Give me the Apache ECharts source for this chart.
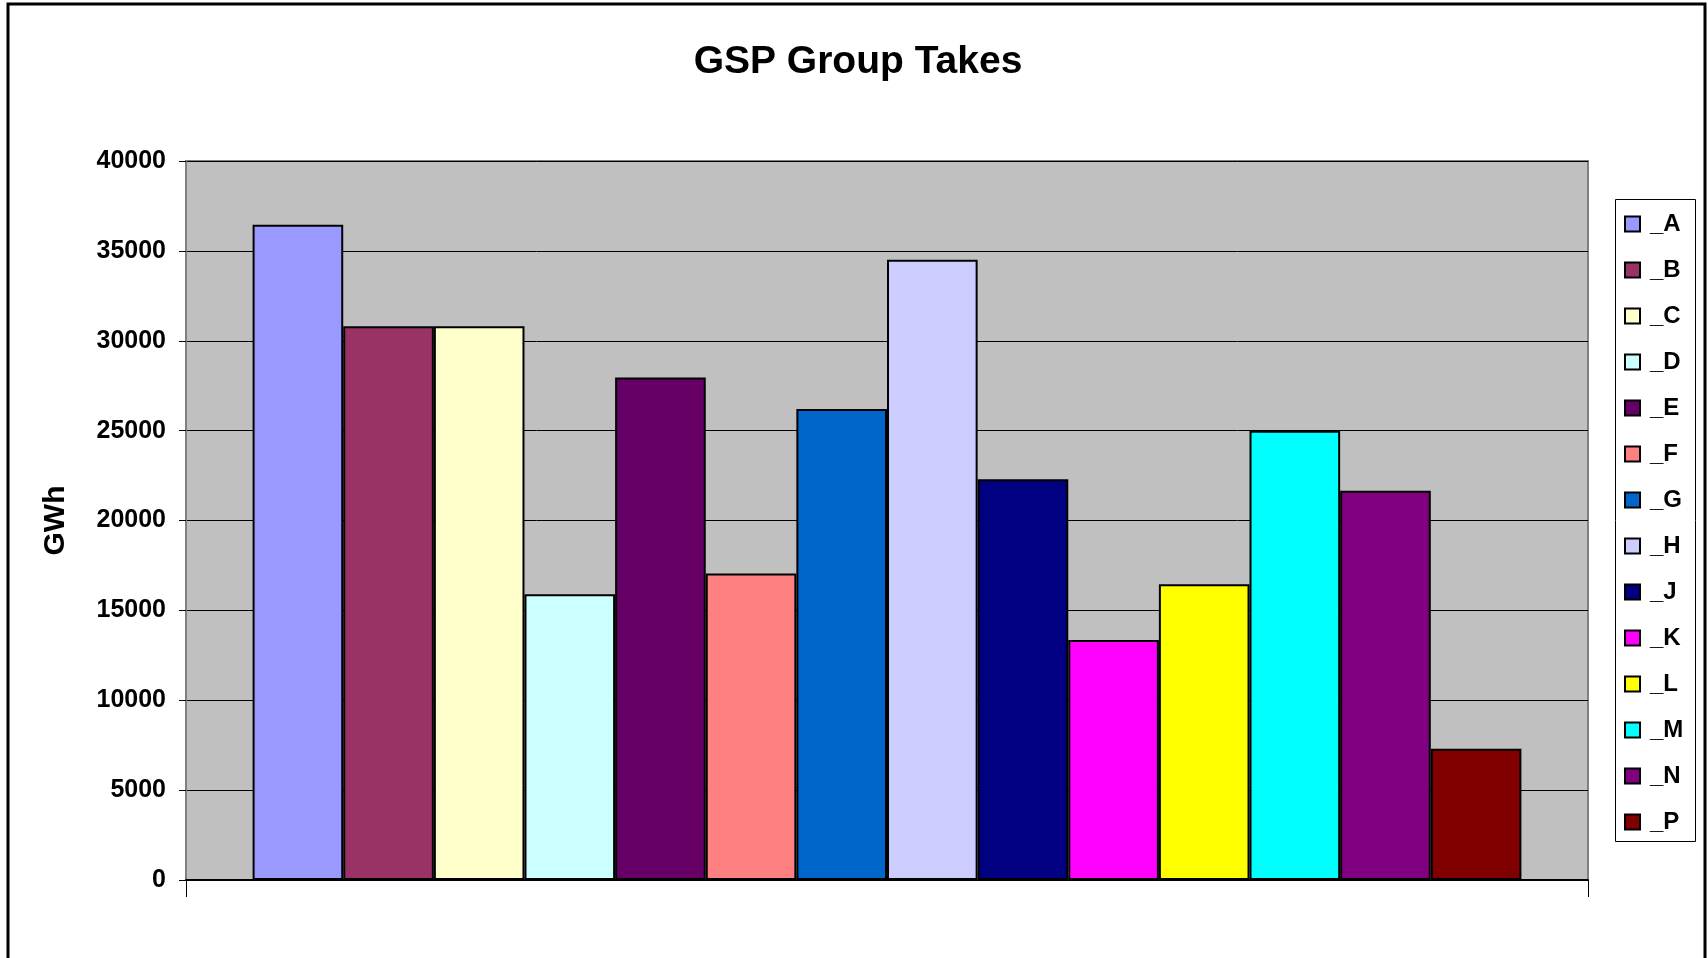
<!DOCTYPE html>
<html>
<head>
<meta charset="utf-8">
<script src="https://cdn.jsdelivr.net/npm/echarts@6/dist/echarts.min.js"></script>
<style>
html,body{margin:0;padding:0;background:#fff;}
#chart{width:1708px;height:958px;}
</style>
</head>
<body>
<div id="chart"></div>
<script>
var seriesNames = ['_A','_B','_C','_D','_E','_F','_G','_H','_J','_K','_L','_M','_N','_P'];
var seriesValues = [36450, 30800, 30800, 15900, 27950, 17050, 26200, 34500, 22300, 13350, 16450, 25000, 21650, 7300];
var seriesColors = ['#9999FF','#993366','#FFFFCC','#CCFFFF','#660066','#FF8080','#0066CC','#CCCCFF','#000080','#FF00FF','#FFFF00','#00FFFF','#800080','#800000'];
var categories = [''];
var yTicks = {min: 0, max: 40000, interval: 5000};

var FONT = "'Liberation Sans', Arial, sans-serif";
var chart = echarts.init(document.getElementById('chart'), null, {renderer: 'canvas'});

var series = seriesNames.map(function (name, i) {
  return {
    name: name,
    type: 'bar',
    data: [seriesValues[i]],
    barGap: '0%',
    barCategoryGap: '9.5%',
    itemStyle: {color: seriesColors[i], borderColor: '#000', borderWidth: 2},
    emphasis: {disabled: true},
    animation: false
  };
});

chart.setOption({
  animation: false,
  backgroundColor: '#ffffff',
  title: {
    text: 'GSP Group Takes',
    left: 853,
    textAlign: 'center',
    top: 38,
    textStyle: {fontFamily: FONT, fontWeight: 'bold', fontSize: 39, color: '#000'}
  },
  graphic: [
    {type: 'rect', z: -10, silent: true, shape: {x: 8, y: 4, width: 1697, height: 1000},
      style: {fill: 'none', stroke: '#000', lineWidth: 3}},
    {type: 'rect', z: 0, silent: true, shape: {x: 1615.5, y: 199.5, width: 80, height: 642},
      style: {fill: '#fff', stroke: '#000', lineWidth: 1}}
  ],
  legend: {
    orient: 'vertical',
    left: 1624,
    top: 212,
    padding: 0,
    itemWidth: 15,
    itemHeight: 15,
    itemGap: 22,
    icon: 'rect',
    selectedMode: false,
    data: seriesNames,
    itemStyle: {borderColor: '#000', borderWidth: 2},
    textStyle: {fontFamily: FONT, fontWeight: 'bold', fontSize: 24, color: '#000', padding: [0, 0, 0, 5]}
  },
  grid: {
    left: 186, right: 120, top: 161, bottom: 78,
    show: true, backgroundColor: '#C0C0C0', borderColor: '#808080', borderWidth: 2,
    containLabel: false
  },
  xAxis: {
    type: 'category',
    data: categories,
    axisLine: {show: true, lineStyle: {color: '#000', width: 2}},
    axisTick: {show: true, length: 17, lineStyle: {color: '#000', width: 1}},
    axisLabel: {show: false},
    splitLine: {show: false}
  },
  yAxis: {
    type: 'value',
    min: yTicks.min, max: yTicks.max, interval: yTicks.interval,
    name: 'GWh',
    nameLocation: 'middle',
    nameRotate: 90,
    nameGap: 115,
    nameTextStyle: {fontFamily: FONT, fontWeight: 'bold', fontSize: 30, color: '#000'},
    axisLine: {show: true, lineStyle: {color: '#808080', width: 2}},
    axisTick: {show: true, length: 7, lineStyle: {color: '#000', width: 1}},
    axisLabel: {margin: 20, fontFamily: FONT, fontWeight: 'bold', fontSize: 25, color: '#000',
      formatter: function (v) { return String(v); }},
    splitLine: {show: true, lineStyle: {color: '#000', width: 1}}
  },
  series: series
});
</script>
</body>
</html>
